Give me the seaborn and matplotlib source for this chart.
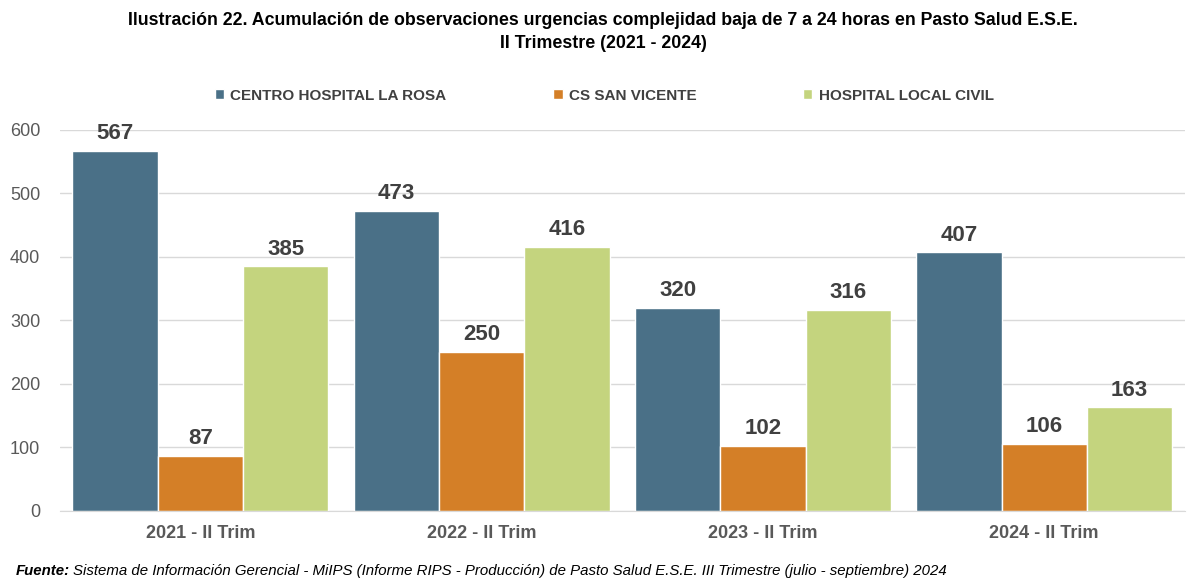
import pandas as pd
import matplotlib.pyplot as plt
import seaborn as sns

# Data
periodos = ["2021 - II Trim", "2022 - II Trim", "2023 - II Trim", "2024 - II Trim"]
la_rosa = [567, 473, 320, 407]
san_vicente = [87, 250, 102, 106]
local_civil = [385, 416, 316, 163]
sedes = ["CENTRO HOSPITAL LA ROSA", "CS SAN VICENTE", "HOSPITAL LOCAL CIVIL"]
colores = ["#4A7087", "#D47F27", "#C4D47E"]

df = pd.DataFrame({"periodo": periodos * 3,
                   "sede": [s for s in sedes for _ in periodos],
                   "valor": la_rosa + san_vicente + local_civil})

sns.set_style("white")
plt.rcParams["font.family"] = ["Liberation Sans", "DejaVu Sans"]

fig = plt.figure(figsize=(11.92, 5.8), dpi=100)
ax = fig.add_axes([0.050, 0.119, 0.944, 0.657])

sns.barplot(data=df, x="periodo", y="valor", hue="sede", palette=colores,
            width=0.91, gap=0, saturation=1, ax=ax, legend=True)

for cont in ax.containers:
    ax.bar_label(cont, fmt="%d", padding=5, fontsize=16, fontweight="bold", color="#404040")

ax.set_ylim(0, 600)
ax.set_yticks(range(0, 601, 100))
ax.yaxis.grid(True, color="#D9D9D9", linewidth=1)
ax.set_axisbelow(True)
ax.set_xlabel("")
ax.set_ylabel("")
for s in ["top", "right", "left"]:
    ax.spines[s].set_visible(False)
ax.spines["bottom"].set_color("#D9D9D9")
ax.tick_params(axis="y", labelsize=13, labelcolor="#595959", length=0, pad=14)
ax.tick_params(axis="x", labelsize=13, labelcolor="#595959", length=0, pad=10)
for t in ax.get_xticklabels():
    t.set_fontweight("bold")

ax.legend(loc="center", ncol=3, frameon=False, handlelength=0.6, handleheight=0.6,
          columnspacing=7, handletextpad=0.4, prop={"weight": "bold", "size": 11})
leg = ax.get_legend()
leg.set_bbox_to_anchor((0.507, 0.835), transform=fig.transFigure)
for t in leg.get_texts():
    t.set_color("#404040")

fig.text(0.506, 0.945, "Ilustración 22. Acumulación de observaciones urgencias complejidad baja de 7 a 24 horas en Pasto Salud E.S.E.\nII Trimestre (2021 - 2024)",
         ha="center", va="center", fontsize=12.8, fontweight="bold", color="black", linespacing=1.4)

fig.text(0.013, 0.008, "Fuente:", fontsize=10.8, fontweight="bold", style="italic", color="black")
fig.text(0.061, 0.008, "Sistema de Información Gerencial - MiIPS (Informe RIPS - Producción) de Pasto Salud E.S.E. III Trimestre (julio - septiembre) 2024",
         fontsize=10.8, style="italic", color="black")

fig.savefig("out.png", dpi=100)
